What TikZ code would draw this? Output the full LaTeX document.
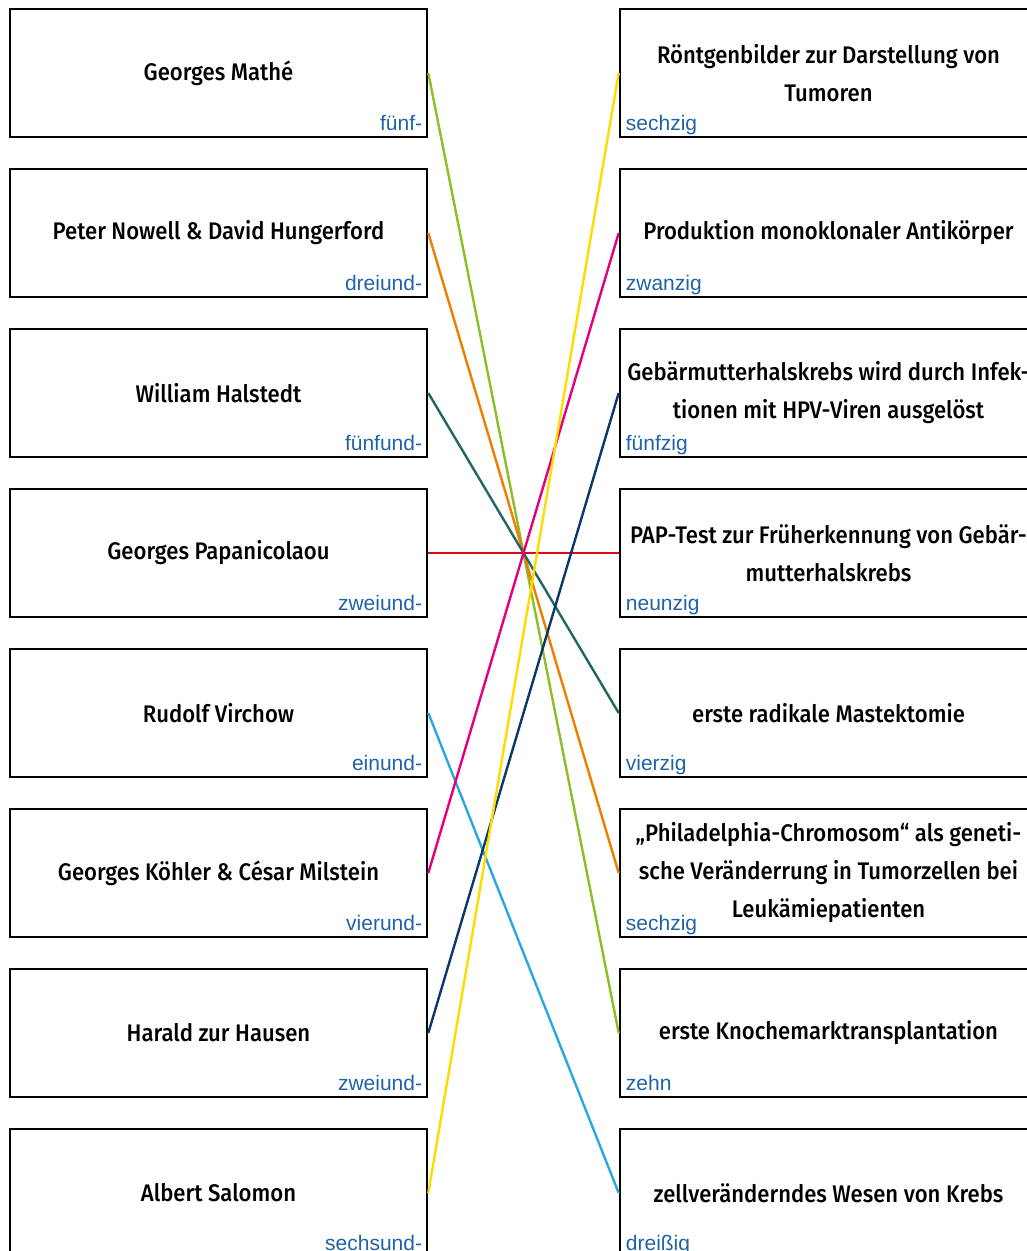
\documentclass[tikz,border=0pt]{standalone}
\usepackage{fontspec}
\usepackage{xcolor}
\usepackage{tikz}
\setmainfont{Fira Sans Medium}[FakeStretch=0.92]
\newfontfamily\numfont{Liberation Sans}

\definecolor{numblue}{HTML}{1F63A6}
\definecolor{cgreen}{HTML}{8DBE27}
\definecolor{corange}{HTML}{F07D00}
\definecolor{cteal}{HTML}{236663}
\definecolor{cred}{HTML}{E30613}
\definecolor{clightblue}{HTML}{2BA8E0}
\definecolor{cmagenta}{HTML}{E4007C}
\definecolor{cnavy}{HTML}{0B376B}
\definecolor{cyellow}{HTML}{FFDC00}

\begin{document}
\begin{tikzpicture}[x=1pt, y=-1pt,
    box/.style={draw, line width=2.6pt, minimum width=417pt, minimum height=128pt,
                inner sep=0pt, align=center, font=\fontsize{24}{38}\selectfont},
    lnum/.style={anchor=base east, xshift=-6pt, yshift=8pt, inner sep=0pt,
                 text=numblue, font=\numfont\fontsize{21}{22}\selectfont},
    rnum/.style={anchor=base west, xshift=7pt, yshift=8pt, inner sep=0pt,
                 text=numblue, font=\numfont\fontsize{21}{22}\selectfont},
    link/.style={line width=2.4pt}]
            \useasboundingbox (0,0) rectangle (1026,1251);

            % Left column: persons
            \node[box] (mathe) at (218.5,73) {Georges Mathé};
            \node[lnum] (mathe-n) at (mathe.south east) {fünf-};
            \node[box] (nowell) at (218.5,233) {Peter Nowell \& David Hungerford};
            \node[lnum] (nowell-n) at (nowell.south east) {dreiund-};
            \node[box] (halstedt) at (218.5,393) {William Halstedt};
            \node[lnum] (halstedt-n) at (halstedt.south east) {fünfund-};
            \node[box] (papa) at (218.5,553) {Georges Papanicolaou};
            \node[lnum] (papa-n) at (papa.south east) {zweiund-};
            \node[box] (virchow) at (218.5,713) {Rudolf Virchow};
            \node[lnum] (virchow-n) at (virchow.south east) {einund-};
            \node[box] (koehler) at (218.5,873) {Georges Köhler \& César Milstein};
            \node[lnum] (koehler-n) at (koehler.south east) {vierund-};
            \node[box] (hausen) at (218.5,1033) {Harald zur Hausen};
            \node[lnum] (hausen-n) at (hausen.south east) {zweiund-};
            \node[box] (salomon) at (218.5,1193) {Albert Salomon};
            \node[lnum] (salomon-n) at (salomon.south east) {sechsund-};

            % Right column: discoveries
            \node[box] (roentgen) at (828.5,73) {Röntgenbilder zur Darstellung von\\Tumoren};
            \node[rnum] (roentgen-n) at (roentgen.south west) {sechzig};
            \node[box] (antikoerper) at (828.5,233) {Produktion monoklonaler Antikörper};
            \node[rnum] (antikoerper-n) at (antikoerper.south west) {zwanzig};
            \node[box] (hpv) at (828.5,393) {Gebärmutterhalskrebs wird durch Infek-\\tionen mit HPV-Viren ausgelöst};
            \node[rnum] (hpv-n) at (hpv.south west) {fünfzig};
            \node[box] (pap) at (828.5,553) {PAP-Test zur Früherkennung von Gebär-\\mutterhalskrebs};
            \node[rnum] (pap-n) at (pap.south west) {neunzig};
            \node[box] (mastek) at (828.5,713) {erste radikale Mastektomie};
            \node[rnum] (mastek-n) at (mastek.south west) {vierzig};
            \node[box] (phila) at (828.5,873) {„Philadelphia-Chromosom“ als geneti-\\sche Veränderrung in Tumorzellen bei\\Leukämiepatienten};
            \node[rnum] (phila-n) at (phila.south west) {sechzig};
            \node[box] (knochen) at (828.5,1033) {erste Knochemarktransplantation};
            \node[rnum] (knochen-n) at (knochen.south west) {zehn};
            \node[box] (krebs) at (828.5,1193) {zellveränderndes Wesen von Krebs};
            \node[rnum] (krebs-n) at (krebs.south west) {dreißig};

            % Connections
            \draw[link, cgreen] (mathe.east) -- (knochen.west);
            \draw[link, corange] (nowell.east) -- (phila.west);
            \draw[link, cteal] (halstedt.east) -- (mastek.west);
            \draw[link, cred] (papa.east) -- (pap.west);
            \draw[link, clightblue] (virchow.east) -- (krebs.west);
            \draw[link, cmagenta] (koehler.east) -- (antikoerper.west);
            \draw[link, cnavy] (hausen.east) -- (hpv.west);
            \draw[link, cyellow] (salomon.east) -- (roentgen.west);
        \end{tikzpicture}
\end{document}
